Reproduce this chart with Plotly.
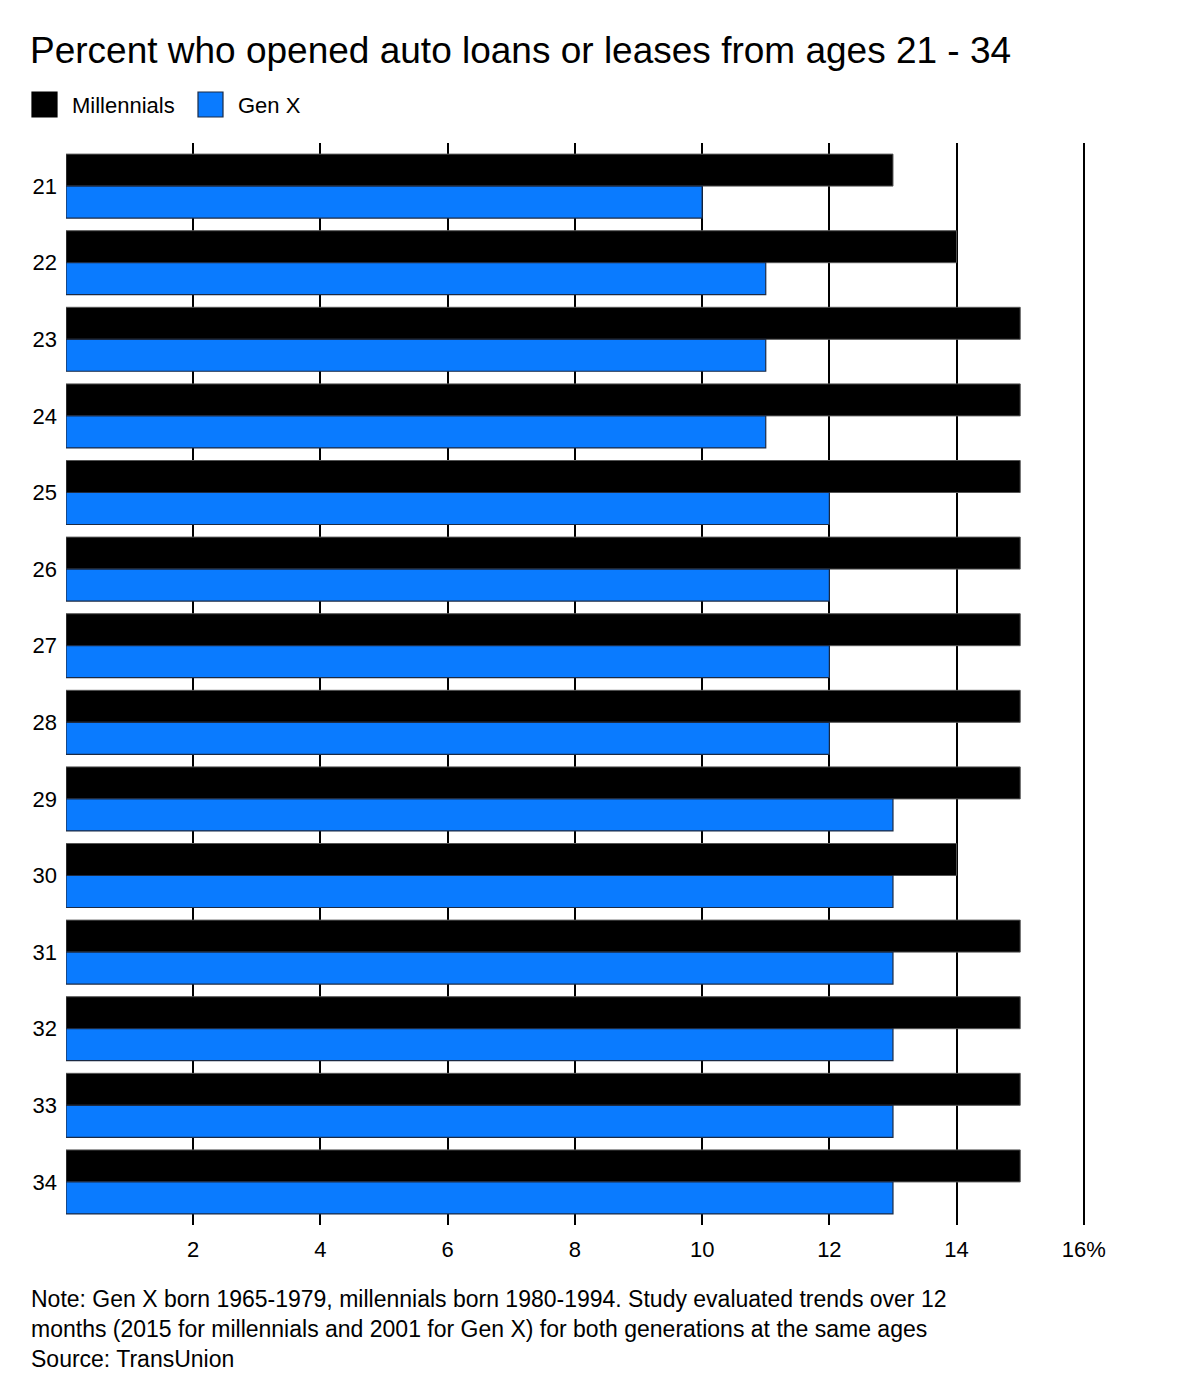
import plotly.graph_objects as go

ages = ["21", "22", "23", "24", "25", "26", "27", "28", "29", "30", "31", "32", "33", "34"]
millennials = [13, 14, 15, 15, 15, 15, 15, 15, 15, 14, 15, 15, 15, 15]
gen_x = [10, 11, 11, 11, 12, 12, 12, 12, 13, 13, 13, 13, 13, 13]

x_ticks = [2, 4, 6, 8, 10, 12, 14, 16]
x_ticktext = ["2", "4", "6", "8", "10", "12", "14", "16%"]

title = "Percent who opened auto loans or leases from ages 21 - 34"
note = ("Note: Gen X born 1965-1979, millennials born 1980-1994. Study evaluated trends over 12<br>"
        "months (2015 for millennials and 2001 for Gen X) for both generations at the same ages<br>"
        "Source: TransUnion")

FONT = "Liberation Sans, Arial, sans-serif"
BLACK = "#000000"
BLUE = "#0a7bff"
EDGE = "#1b2a44"

W, H = 1200, 1386
L, R, T, B = 58, 121, 135, 169
PW, PH = W - L - R, H - T - B


def px(x):
    return (x - L) / PW


def py(y):
    return (H - B - y) / PH


fig = go.Figure()
fig.add_trace(go.Bar(
    y=ages, x=millennials, name="Millennials", orientation="h",
    marker=dict(color=BLACK, line=dict(color="#555555", width=1)),
))
fig.add_trace(go.Bar(
    y=ages, x=gen_x, name="Gen X", orientation="h",
    marker=dict(color=BLUE, line=dict(color=EDGE, width=1.2)),
))

pad = 0.0625
fig.update_layout(
    width=W, height=H,
    plot_bgcolor="white", paper_bgcolor="white",
    barmode="group", bargap=0.165, bargroupgap=0,
    showlegend=False,
    margin=dict(l=L, r=R, t=T, b=B),
    font=dict(family=FONT, size=22, color="#000000"),
    title=dict(text=title, xref="container", x=22 / W, xanchor="left",
               yref="container", y=1 - 42 / H, yanchor="middle",
               font=dict(family=FONT, size=37, color="#000000")),
    xaxis=dict(range=[0, 16.05], tickvals=x_ticks, ticktext=x_ticktext,
               showgrid=True, gridcolor="#000000", gridwidth=1.5,
               zeroline=False, showline=False, ticks="",
               ticklabelstandoff=9, tickfont=dict(size=22)),
    yaxis=dict(range=[len(ages) - 0.5 + pad, -0.5 - pad], showgrid=False,
               zeroline=False, showline=False, ticks="", ticklabelstandoff=8,
               tickfont=dict(size=22)),
)

# legend drawn by hand to get the large square swatches
legend_items = [("Millennials", BLACK, 24), ("Gen X", BLUE, 190)]
for name, color, x0 in legend_items:
    fig.add_shape(type="rect", xref="paper", yref="paper",
                  x0=px(x0), x1=px(x0 + 25), y0=py(109), y1=py(84),
                  fillcolor=color, line=dict(color=EDGE if color == BLUE else BLACK, width=1.2))
    fig.add_annotation(text=name, xref="paper", yref="paper",
                       x=px(x0 + 38), y=py(97),
                       xanchor="left", yanchor="middle", showarrow=False,
                       font=dict(size=22))

fig.add_annotation(text=note, xref="paper", yref="paper",
                   x=px(21), y=py(1276),
                   xanchor="left", yanchor="top", align="left", showarrow=False,
                   font=dict(size=23))

fig.write_html("out.html")
